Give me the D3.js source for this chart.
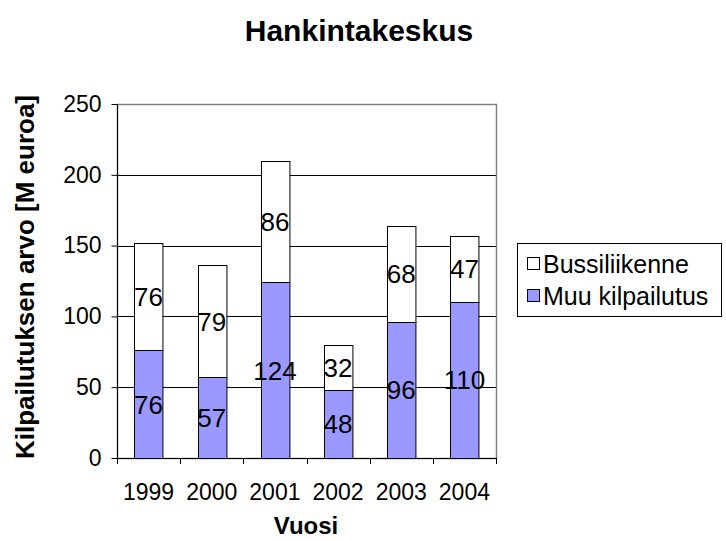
<!DOCTYPE html>
<html><head><meta charset="utf-8">
<script src="https://cdn.jsdelivr.net/npm/d3@7"></script>
<style>body{margin:0;background:#fff}svg{display:block;font-family:Arial,"Liberation Sans",sans-serif}</style>
</head><body><svg id="c" width="726" height="541"></svg>
<script>
const years = ["1999","2000","2001","2002","2003","2004"];
const muuKilpailutus = [76,57,124,48,96,110];
const bussiliikenne = [76,79,86,32,68,47];
const yTicks = [0,50,100,150,200,250];
const seriesNames = ["Muu kilpailutus","Bussiliikenne"];

const svg = d3.select("#c");
const L=117, R=496, T=104, B=458;
const x = d3.scaleBand().domain(years).range([L,R]).paddingInner(0.55).paddingOuter(0.275);
const xb = d3.scaleBand().domain(years).range([L,R]);
const y = d3.scaleLinear().domain([0,250]).range([B,T]);

// gridlines
svg.append("g").selectAll("line").data(yTicks.filter(v=>v>0 && v<250)).join("line")
  .attr("x1",L).attr("x2",R).attr("y1",d=>Math.round(y(d))+0.5).attr("y2",d=>Math.round(y(d))+0.5)
  .attr("stroke","#000").attr("stroke-width",1);
// plot border (gray)
svg.append("rect").attr("x",L+0.5).attr("y",T+0.5).attr("width",R-L).attr("height",B-T)
  .attr("fill","none").attr("stroke","#808080").attr("stroke-width",1.5);

const stack = d3.stack().keys([0,1]).value((d,k)=>d[k])(years.map((yr,i)=>[muuKilpailutus[i],bussiliikenne[i]]));
const fills=["#9999ff","#ffffff"];
stack.forEach((s,k)=>{
  svg.append("g").selectAll("rect").data(s).join("rect")
    .attr("x",(d,i)=>Math.round(x(years[i]))+0.5)
    .attr("width",x.bandwidth())
    .attr("y",d=>Math.round(y(d[1]))+0.5)
    .attr("height",d=>Math.round(y(d[0]))-Math.round(y(d[1])))
    .attr("fill",fills[k]).attr("stroke","#000").attr("stroke-width",1);
});
stack.forEach((s,k)=>{
  svg.append("g").selectAll("text").data(s).join("text")
    .attr("x",(d,i)=>x(years[i])+x.bandwidth()/2)
    .attr("y",d=>(y(d[0])+y(d[1]))/2)
    .attr("dy","0.36em").attr("text-anchor","middle")
    .attr("font-size",26).attr("fill","#000")
    .text(d=>d[1]-d[0]);
});

// y axis
const ya = svg.append("g").attr("transform",`translate(${L+0.5},0)`)
  .call(d3.axisLeft(y).tickValues(yTicks).tickSize(6).tickPadding(10));
ya.select(".domain").attr("stroke","#000").attr("d",`M0,${T}V${B}`);
ya.selectAll(".tick line").attr("stroke","#000");
ya.selectAll("text").attr("font-size",23).attr("font-family","Arial,'Liberation Sans',sans-serif").attr("fill","#000");

// x axis
svg.append("line").attr("x1",L).attr("x2",R).attr("y1",B+0.5).attr("y2",B+0.5).attr("stroke","#000");
svg.append("g").selectAll("line").data(years.concat(["end"])).join("line")
  .attr("x1",(d,i)=>Math.round(L+i*xb.step())+0.5).attr("x2",(d,i)=>Math.round(L+i*xb.step())+0.5)
  .attr("y1",B).attr("y2",B+6).attr("stroke","#000");
svg.append("g").selectAll("text").data(years).join("text")
  .attr("x",d=>xb(d)+xb.bandwidth()/2).attr("y",500).attr("text-anchor","middle")
  .attr("font-size",23).attr("fill","#000").text(d=>d);

// titles
svg.append("text").attr("x",359).attr("y",41).attr("text-anchor","middle")
  .attr("font-size",30).attr("font-weight","bold").text("Hankintakeskus");
svg.append("text").attr("transform","translate(34,277) rotate(-90)").attr("text-anchor","middle")
  .attr("font-size",26).attr("font-weight","bold").text("Kilpailutuksen arvo [M euroa]");
svg.append("text").attr("x",306).attr("y",534).attr("text-anchor","middle")
  .attr("font-size",24).attr("font-weight","bold").text("Vuosi");

// legend
const lg = svg.append("g");
lg.append("rect").attr("x",517.5).attr("y",243.5).attr("width",204).attr("height",73)
  .attr("fill","#fff").attr("stroke","#000");
const legendItems = [{name:seriesNames[1],fill:fills[1]},{name:seriesNames[0],fill:fills[0]}];
legendItems.forEach((it,i)=>{
  const cy = 264 + i*32;
  lg.append("rect").attr("x",527.5).attr("y",cy-6.5).attr("width",12).attr("height",12)
    .attr("fill",it.fill).attr("stroke","#000");
  lg.append("text").attr("x",543).attr("y",cy).attr("dy","0.36em")
    .attr("font-size",25).attr("fill","#000").text(it.name);
});
</script></body></html>
